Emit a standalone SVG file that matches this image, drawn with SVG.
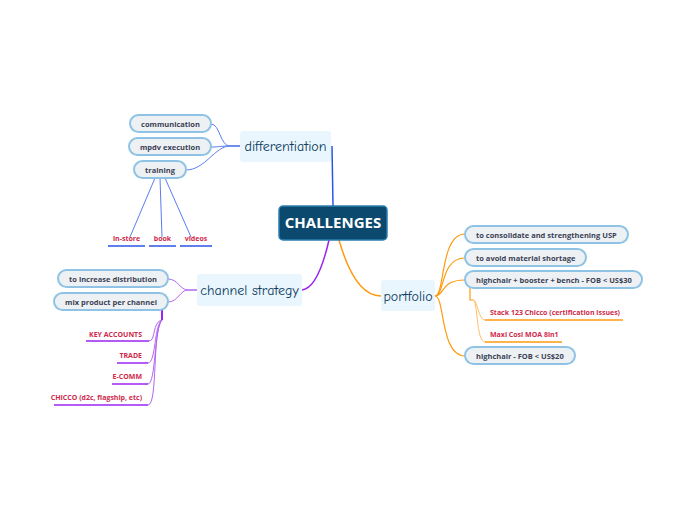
<svg xmlns="http://www.w3.org/2000/svg" width="697" height="520" viewBox="0 0 697 520">
<style>
.pill{fill:#eef1f4;stroke:#8ec3e6;stroke-width:2}
.pt{font-family:"Open Sans","DejaVu Sans",sans-serif;font-size:7.5px;font-weight:bold;fill:#3a3f55}
.br{fill:#eaf6fd}
.bt{font-family:"Comic Neue","Lato","Open Sans",sans-serif;font-size:14px;fill:#0b3a5e}
.rt{font-family:"Open Sans","DejaVu Sans",sans-serif;font-size:7px;font-weight:bold;fill:#d0294a}
.c{fill:none}
</style>
<rect width="697" height="520" fill="#fff"/>
<g id="connectors" class="c">
<path d="M333,206 L332,146" stroke="#2a55e6" stroke-width="1.5"/>
<path d="M329,240 Q318,288 302,290" stroke="#9a24f0" stroke-width="1.5"/>
<path d="M339,240 Q355,296 381,296" stroke="#ff9a10" stroke-width="1.5"/>
<g stroke="#5a7cf0" stroke-width="1">
<path d="M240,146 L230,146 C220,146 220,124 211,124"/>
<path d="M240,146 L230,146 C220,146 220,147 211,147"/>
<path d="M240,146 L230,146 C215,146 205,170 186,170"/>
<path d="M155,178 L130,237"/><path d="M160,178 L162,237"/><path d="M165,178 L191,237"/>
</g>
<g stroke="#2a55e6" stroke-width="1.5">
<path d="M108,246 H145"/><path d="M149,246 H176"/><path d="M180,246 H212"/>
</g>
<g stroke="#b266f0" stroke-width="1">
<path d="M197,290 L188,290 C180,290 178,279 168,279"/>
<path d="M197,290 L188,290 C180,290 178,302 168,302"/>
<path d="M162,320 C152,322 156,341 149,341"/>
<path d="M162,320 C154,325 156,363 148,363"/>
<path d="M162,320 C154,328 156,384 148,384"/>
<path d="M162,320 C152,330 158,405 148,405"/>
</g>
<path d="M162,310 V320" stroke="#9a24f0" stroke-width="2"/>
<g stroke="#9a24f0" stroke-width="1.5">
<path d="M86,341 H149"/><path d="M117,363 H148"/><path d="M112,384 H148"/><path d="M54,405 H148"/>
</g>
<g stroke="#ff9a10" stroke-width="1.2">
<path d="M435,296 C445,296 440,234 465,234"/>
<path d="M435,296 C445,296 440,258 465,258"/>
<path d="M435,296 C445,296 440,280 465,280"/>
<path d="M435,296 C445,296 440,356 465,356"/>
<path d="M470,288 V300 H473"/>
</g>
<g stroke="#ffbf66" stroke-width="1">
<path d="M473,300 C478,300 478,320 485,320"/>
<path d="M473,300 C478,300 476,342 485,342"/>
</g>
<g stroke="#ff9a10" stroke-width="1.5">
<path d="M485,320 H623"/><path d="M485,342 H562"/>
</g>
</g>
<g id="root"><rect x="279" y="206" width="108" height="34" rx="4" fill="#0b4a6e" stroke="#2d7fb0" stroke-width="1.5"/><text x="333" y="228" text-anchor="middle" font-family="Open Sans,sans-serif" font-weight="bold" font-size="15" fill="#fff">CHALLENGES</text></g>
<g id="differentiation"><rect class="br" x="240" y="131" width="91" height="31" rx="3"/><text class="bt" x="285.5" y="151" text-anchor="middle">differentiation</text></g>
<g id="channel"><rect class="br" x="197" y="274" width="105" height="32" rx="3"/><text class="bt" x="249.5" y="295" text-anchor="middle">channel strategy</text></g>
<g id="portfolio"><rect class="br" x="381" y="280" width="54" height="31" rx="3"/><text class="bt" x="408" y="301" text-anchor="middle">portfolio</text></g>
<g id="communication"><rect class="pill" x="130" y="115" width="81" height="17" rx="8.5"/><text class="pt" x="170.5" y="126.5" text-anchor="middle">communication</text></g>
<g id="mpdv"><rect class="pill" x="129" y="138" width="82" height="17" rx="8.5"/><text class="pt" x="170" y="149.5" text-anchor="middle">mpdv execution</text></g>
<g id="training"><rect class="pill" x="134" y="161" width="52" height="17" rx="8.5"/><text class="pt" x="160" y="172.5" text-anchor="middle">training</text></g>
<g id="instore"><text class="rt" x="126.5" y="241" text-anchor="middle">in-store</text></g>
<g id="book"><text class="rt" x="162.5" y="241" text-anchor="middle">book</text></g>
<g id="videos"><text class="rt" x="196" y="241" text-anchor="middle">videos</text></g>
<g id="distribution"><rect class="pill" x="58" y="270" width="110" height="17" rx="8.5"/><text class="pt" x="113" y="281.5" text-anchor="middle">to increase distribution</text></g>
<g id="mix"><rect class="pill" x="54" y="293" width="114" height="17" rx="8.5"/><text class="pt" x="111" y="304.5" text-anchor="middle">mix product per channel</text></g>
<g id="key"><text class="rt" x="142" y="337" text-anchor="end">KEY ACCOUNTS</text></g>
<g id="trade"><text class="rt" x="142" y="358" text-anchor="end">TRADE</text></g>
<g id="ecomm"><text class="rt" x="142" y="379" text-anchor="end">E-COMM</text></g>
<g id="chicco"><text class="rt" x="142" y="400" text-anchor="end">CHICCO (d2c, flagship, etc)</text></g>
<g id="usp"><rect class="pill" x="465" y="226" width="163" height="17" rx="8.5"/><text class="pt" x="476" y="237.5">to consolidate and strengthening USP</text></g>
<g id="shortage"><rect class="pill" x="465" y="249" width="121" height="17" rx="8.5"/><text class="pt" x="476" y="260.5">to avoid material shortage</text></g>
<g id="hc30"><rect class="pill" x="465" y="271" width="177" height="17" rx="8.5"/><text class="pt" x="476" y="282.5">highchair + booster + bench - FOB &lt; US$30</text></g>
<g id="stack"><text class="rt" x="490" y="315">Stack 123 Chicco (certification issues)</text></g>
<g id="maxi"><text class="rt" x="490" y="337">Maxi Cosi MOA 8in1</text></g>
<g id="hc20"><rect class="pill" x="465" y="347" width="110" height="17" rx="8.5"/><text class="pt" x="476" y="358.5">highchair - FOB &lt; US$20</text></g>
</svg>
